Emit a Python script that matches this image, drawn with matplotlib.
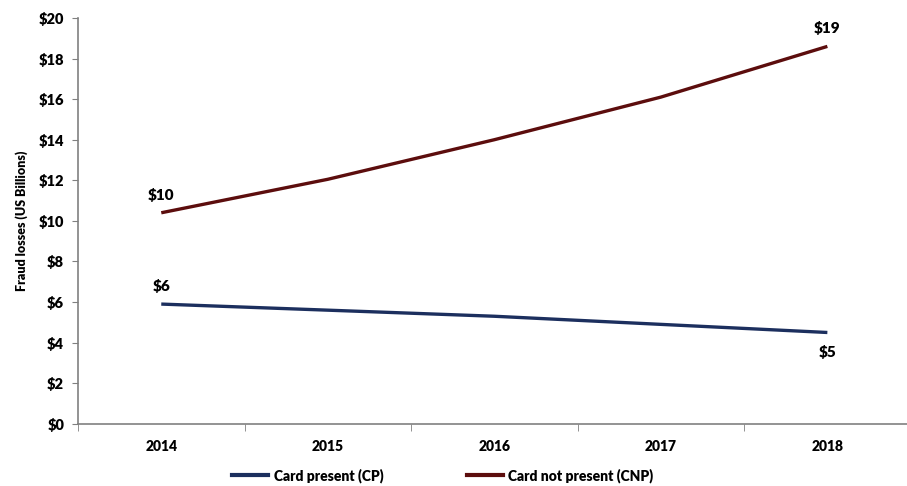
import numpy as np
import matplotlib
matplotlib.use("Agg")
import matplotlib.pyplot as plt
from matplotlib.lines import Line2D

# data
years = ["2014", "2015", "2016", "2017", "2018"]
cp_values = [5.9, 5.6, 5.3, 4.9, 4.5]      # card present
cnp_values = [10.4, 12.05, 14.0, 16.1, 18.6]  # card not present
end_labels_cp = ["$6", "$5"]
end_labels_cnp = ["$10", "$19"]
y_ticks = list(range(0, 21, 2))

CP_COLOR = "#1c2f5e"
CNP_COLOR = "#5c0d0d"
W = "heavy"

plt.rcParams["font.family"] = ["Lato", "DejaVu Sans"]

fig = plt.figure(figsize=(9.07, 4.86), dpi=100)
ax = fig.add_axes([0.086, 0.128, 0.918, 0.835])

x = np.arange(len(years))
ax.plot(x, cp_values, color=CP_COLOR, lw=2.4, solid_capstyle="butt")
ax.plot(x, cnp_values, color=CNP_COLOR, lw=2.4, solid_capstyle="butt")

# end point labels
ax.text(x[0], cp_values[0] + 0.55, end_labels_cp[0], ha="center", va="bottom", fontsize=11, fontweight=W)
ax.text(x[-1], cp_values[-1] - 0.6, end_labels_cp[1], ha="center", va="top", fontsize=11, fontweight=W)
ax.text(x[0], cnp_values[0] + 0.55, end_labels_cnp[0], ha="center", va="bottom", fontsize=11, fontweight=W)
ax.text(x[-1], cnp_values[-1] + 0.55, end_labels_cnp[1], ha="center", va="bottom", fontsize=11, fontweight=W)

ax.set_xlim(-0.5, len(years) - 0.5)
ax.set_ylim(0, 20)
ax.set_yticks(y_ticks)
ax.set_yticklabels([f"${v}" for v in y_ticks], fontsize=10.5, fontweight=W)
ax.set_xticks(x)
ax.set_xticklabels(years, fontsize=10, fontweight=W)
ax.set_xticks(np.arange(-0.5, len(years)), minor=True)
ax.tick_params(axis="x", which="major", length=0, pad=12)
ax.tick_params(axis="x", which="minor", length=5, color="#808080", direction="out")
ax.tick_params(axis="y", length=4, color="#808080", direction="out", pad=6)

for s in ["top", "right"]:
    ax.spines[s].set_visible(False)
for s in ["left", "bottom"]:
    ax.spines[s].set_color("#808080")
    ax.spines[s].set_linewidth(1.2)

ax.set_ylabel("Fraud losses (US Billions)", fontsize=9, fontweight=W, labelpad=8)

handles = [Line2D([], [], color=CP_COLOR, lw=3),
           Line2D([], [], color=CNP_COLOR, lw=3)]
fig.legend(handles, ["Card present (CP)", "Card not present (CNP)"],
           loc="center", bbox_to_anchor=(0.488, 0.022), ncol=2, frameon=False,
           handlelength=2.6, columnspacing=6, handletextpad=0.4,
           prop={"weight": W, "size": 10})

fig.savefig("out.png", dpi=100)
